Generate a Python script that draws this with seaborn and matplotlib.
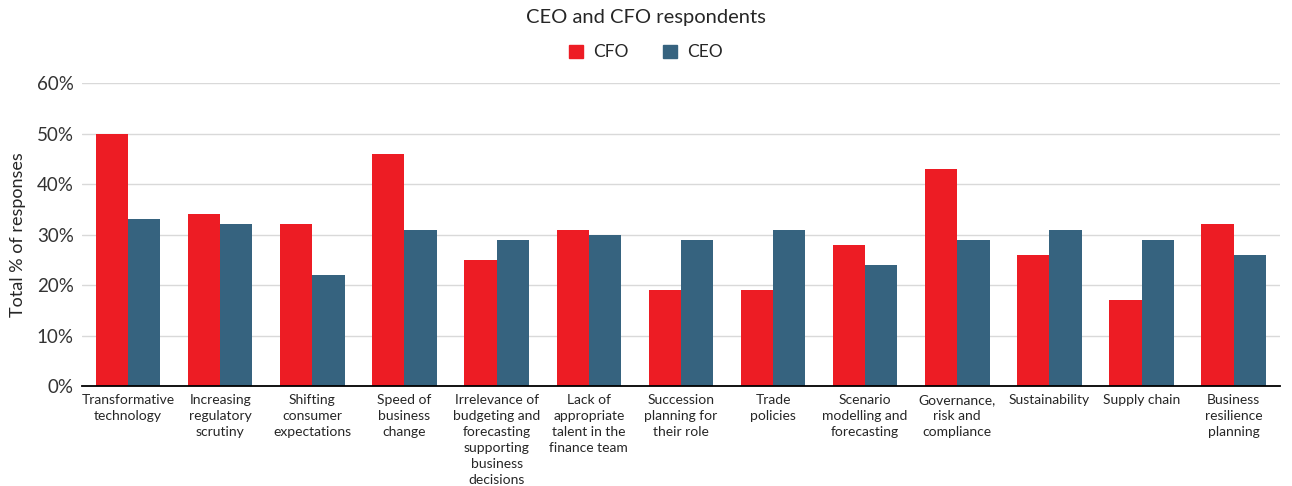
import matplotlib
matplotlib.use("Agg")
import matplotlib.pyplot as plt
import seaborn as sns
import pandas as pd
from matplotlib.ticker import PercentFormatter
from matplotlib.patches import Patch

categories = [
    "Transformative\ntechnology",
    "Increasing\nregulatory\nscrutiny",
    "Shifting\nconsumer\nexpectations",
    "Speed of\nbusiness\nchange",
    "Irrelevance of\nbudgeting and\nforecasting\nsupporting\nbusiness\ndecisions",
    "Lack of\nappropriate\ntalent in the\nfinance team",
    "Succession\nplanning for\ntheir role",
    "Trade\npolicies",
    "Scenario\nmodelling and\nforecasting",
    "Governance,\nrisk and\ncompliance",
    "Sustainability",
    "Supply chain",
    "Business\nresilience\nplanning",
]
cfo = [50, 34, 32, 46, 25, 31, 19, 19, 28, 43, 26, 17, 32]
ceo = [33, 32, 22, 31, 29, 30, 29, 31, 24, 29, 31, 29, 26]

df = pd.DataFrame({
    "category": categories * 2,
    "value": cfo + ceo,
    "group": ["CFO"] * len(cfo) + ["CEO"] * len(ceo),
})

sns.set_style("white")
plt.rcParams["font.family"] = ["Lato", "DejaVu Sans"]

fig = plt.figure(figsize=(12.92, 4.86), dpi=100)
ax = fig.add_axes([0.0635, 0.2058, 0.927, 0.623])

sns.barplot(data=df, x="category", y="value", hue="group",
            palette={"CFO": "#ED1C24", "CEO": "#36637F"},
            width=0.7, saturation=1, linewidth=0, ax=ax, legend=False)

ax.set_ylim(0, 60)
ax.set_yticks(range(0, 61, 10))
ax.yaxis.set_major_formatter(PercentFormatter(decimals=0))
ax.set_xlim(-0.5, len(categories) - 0.5)
ax.grid(axis="y", color="#d9d9d9", linewidth=1)
ax.set_axisbelow(True)
for s in ["top", "right", "left"]:
    ax.spines[s].set_visible(False)
ax.spines["bottom"].set_color("black")
ax.spines["bottom"].set_linewidth(1.3)
ax.tick_params(axis="y", labelsize=13.5, length=0, pad=6, colors="#333333")
ax.tick_params(axis="x", labelsize=10, length=0, pad=6)
for t in ax.get_xticklabels():
    t.set_linespacing(1.4)
ax.set_xlabel("")
ax.set_ylabel("Total % of responses", fontsize=13, labelpad=8)

fig.text(0.5, 0.963, "CEO and CFO respondents", ha="center", va="center", fontsize=14.5)

handles = [Patch(color="#ED1C24", label="CFO"), Patch(color="#36637F", label="CEO")]
fig.legend(handles=handles, loc="center", bbox_to_anchor=(0.5, 0.892), ncol=2,
           frameon=False, fontsize=12.5, handlelength=0.8, handleheight=0.8,
           columnspacing=2.0, handletextpad=0.6)

fig.savefig("out.png", dpi=100)
